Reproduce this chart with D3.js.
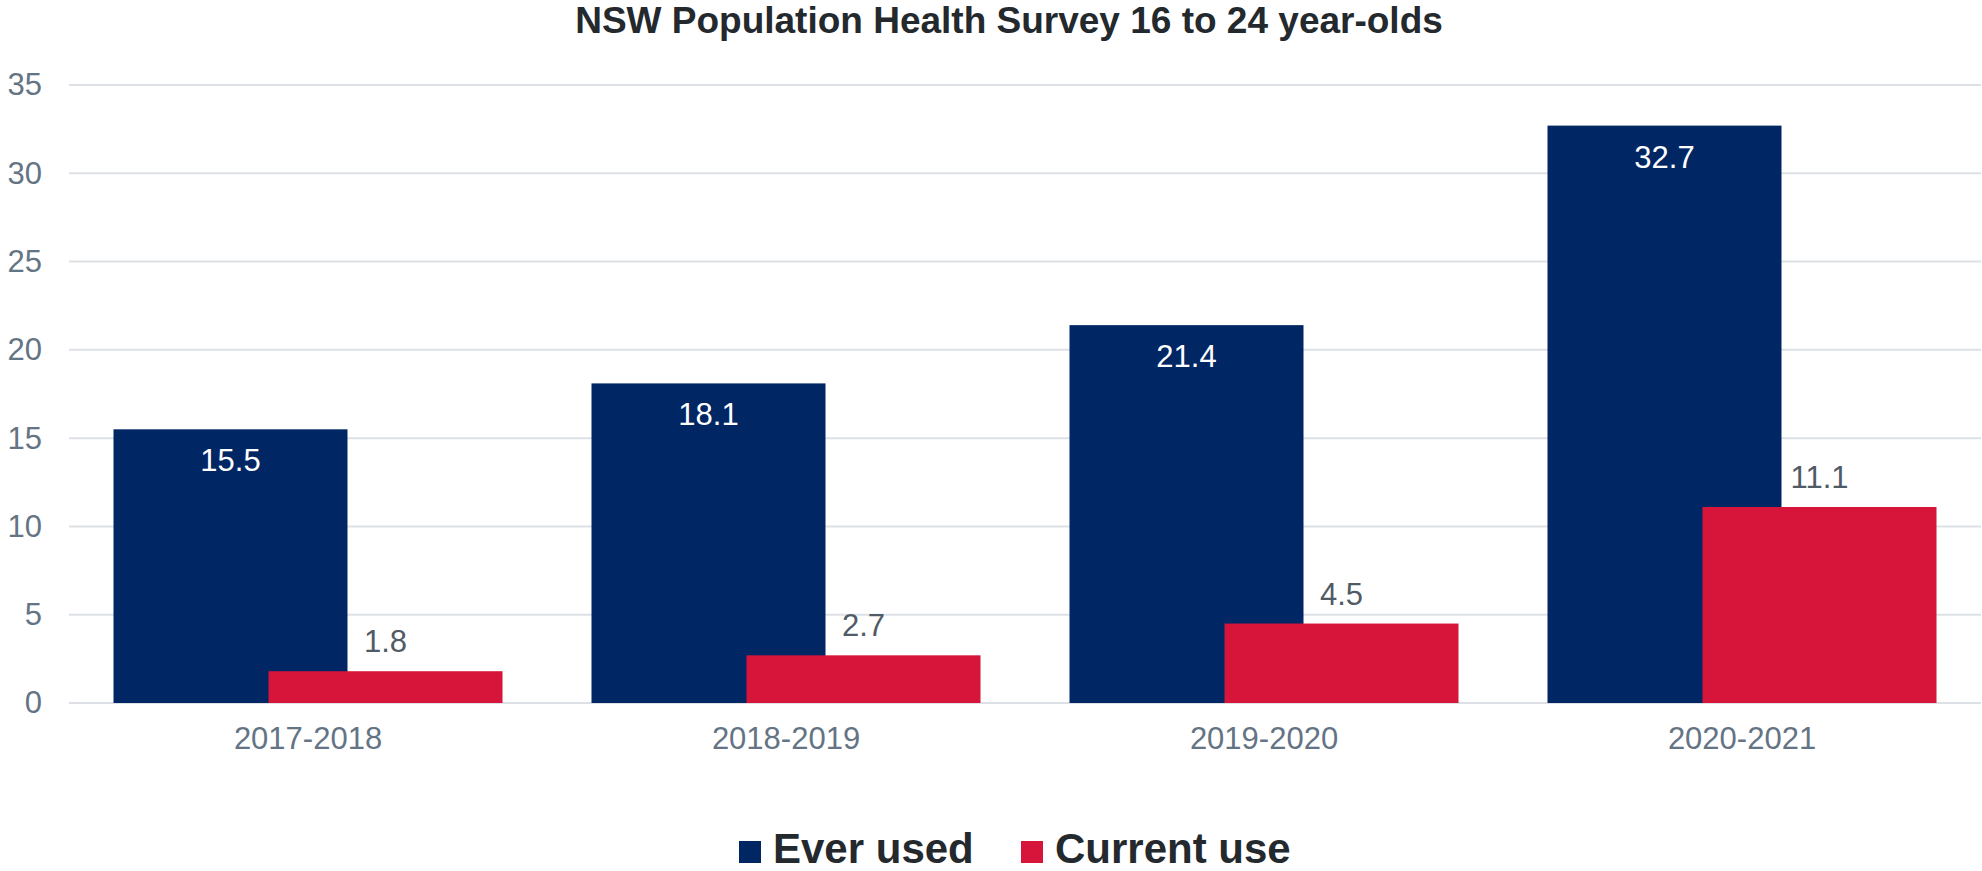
<!DOCTYPE html>
<html>
<head>
<meta charset="utf-8">
<script src="https://cdn.jsdelivr.net/npm/d3@7"></script>
<style>
  html, body { margin: 0; padding: 0; background: #fff; }
  #chart { width: 1982px; height: 871px; }
  text { font-family: "Liberation Sans", Arial, sans-serif; }
</style>
</head>
<body>
<div id="chart"></div>
<script>
const title = "NSW Population Health Survey 16 to 24 year-olds";
const categories = ["2017-2018", "2018-2019", "2019-2020", "2020-2021"];
const seriesNames = ["Ever used", "Current use"];
const everUsed = [15.5, 18.1, 21.4, 32.7];
const currentUse = [1.8, 2.7, 4.5, 11.1];
const yTicks = [0, 5, 10, 15, 20, 25, 30, 35];
const colors = ["#002664", "#d7153a"];

const W = 1982, H = 871;
const margin = { top: 85, right: 1, bottom: 168, left: 69 };
const width = W - margin.left - margin.right;
const height = H - margin.top - margin.bottom;

const svg = d3.select("#chart").append("svg")
  .attr("width", W).attr("height", H);

// Title
svg.append("text")
  .attr("x", 1009).attr("y", 33)
  .attr("text-anchor", "middle")
  .attr("font-size", "37px").attr("font-weight", "bold")
  .attr("fill", "#24292e")
  .text(title);

const g = svg.append("g").attr("transform", `translate(${margin.left},${margin.top})`);

const x = d3.scaleBand().domain(categories).range([0, width]).padding(0);
const y = d3.scaleLinear().domain([0, 35]).range([height, 0]);

// bars overlap: each bar is 234 wide, second one shifted 155 to the right
const barW = 234;
const xs = d3.scalePoint().domain(seriesNames).range([0, 155]);
const groupOff = (x.bandwidth() - (155 + barW)) / 2;

// Gridlines
g.selectAll(".grid")
  .data(yTicks)
  .join("line")
  .attr("x1", 0).attr("x2", width)
  .attr("y1", (d) => y(d)).attr("y2", (d) => y(d))
  .attr("stroke", "#dde1e6").attr("stroke-width", 2);

// Y axis labels
g.append("g")
  .call(d3.axisLeft(y).tickValues(yTicks).tickSize(0).tickPadding(27))
  .call((a) => a.select(".domain").remove())
  .selectAll("text")
  .attr("font-size", "31px")
  .attr("font-family", "Liberation Sans, Arial, sans-serif")
  .attr("fill", "#647484");

// X axis labels
g.append("g")
  .attr("transform", `translate(0,${height})`)
  .call(d3.axisBottom(x).tickSize(0).tickPadding(24))
  .call((a) => a.select(".domain").remove())
  .selectAll("text")
  .attr("font-size", "31px")
  .attr("font-family", "Liberation Sans, Arial, sans-serif")
  .attr("fill", "#647484");

const rows = categories.map((c, i) => [
  { cat: c, s: seriesNames[0], v: everUsed[i], k: 0 },
  { cat: c, s: seriesNames[1], v: currentUse[i], k: 1 }
]).flat();

// Bars
g.selectAll(".bar")
  .data(rows)
  .join("rect")
  .attr("class", "bar")
  .attr("x", (d) => x(d.cat) + groupOff + xs(d.s))
  .attr("y", (d) => y(d.v))
  .attr("width", barW)
  .attr("height", (d) => y(0) - y(d.v))
  .attr("fill", (d) => colors[d.k]);

// Value labels
g.selectAll(".val")
  .data(rows)
  .join("text")
  .attr("class", "val")
  .attr("x", (d) => x(d.cat) + groupOff + xs(d.s) + barW / 2)
  .attr("y", (d) => d.k === 0 ? y(d.v) + 42 : y(d.v) - 19)
  .attr("text-anchor", "middle")
  .attr("font-size", "31px")
  .attr("fill", (d) => d.k === 0 ? "#ffffff" : "#505b66")
  .text((d) => d.v.toFixed(1));

// Legend
const legend = svg.append("g").attr("transform", "translate(739,863)");
const legendX = [0, 282];
seriesNames.forEach((name, i) => {
  legend.append("rect")
    .attr("x", legendX[i]).attr("y", -22)
    .attr("width", 22).attr("height", 22)
    .attr("fill", colors[i]);
  legend.append("text")
    .attr("x", legendX[i] + 34).attr("y", 0)
    .attr("font-size", "42px").attr("font-weight", "bold")
    .attr("fill", "#24292e")
    .text(name);
});
</script>
</body>
</html>
